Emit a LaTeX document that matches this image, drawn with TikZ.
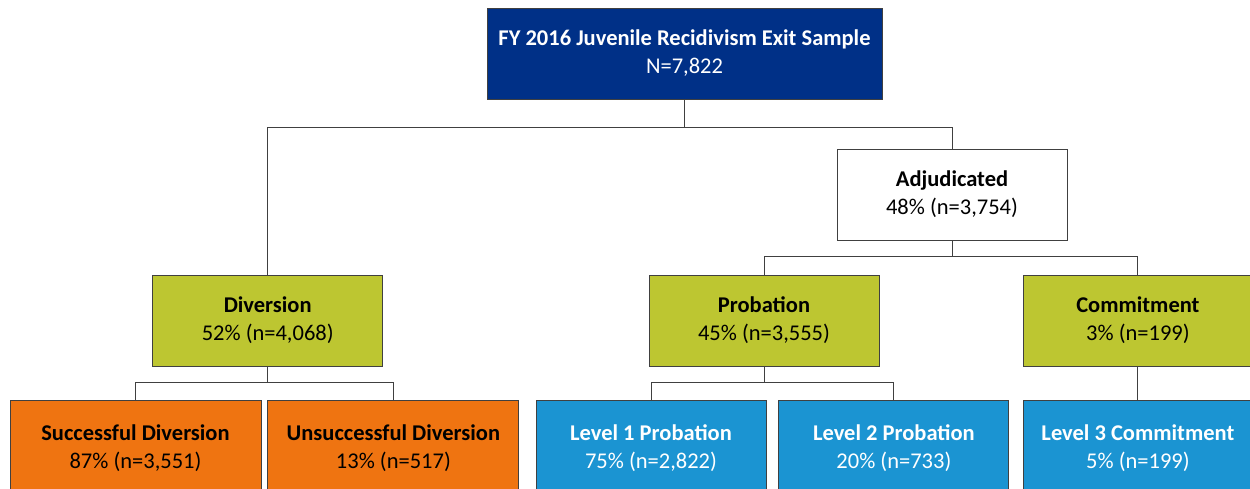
\documentclass[tikz,border=0pt]{standalone}
\usepackage{fontspec}
\setmainfont{Carlito}
\usetikzlibrary{positioning}
\definecolor{navyfill}{RGB}{0,48,135}
\definecolor{olivefill}{RGB}{189,198,49}
\definecolor{orangefill}{RGB}{239,116,17}
\definecolor{bluefill}{RGB}{27,148,210}
\definecolor{edgegray}{RGB}{64,64,64}
\tikzset{
x=1pt, y=-1pt, % one unit is one pixel of the page, y runs downwards
box/.style={draw=edgegray, line width=0.9pt, minimum height=91pt, inner sep=2pt,
  align=center, font=\fontsize{22.5}{28}\selectfont}, % every box of the chart
topbox/.style={box, fill=navyfill, text=white, minimum width=395pt},
midbox/.style={box, fill=olivefill, minimum width=230pt},
divbox/.style={box, fill=orangefill, minimum width=251pt, minimum height=96pt},
levelbox/.style={box, fill=bluefill, text=white, minimum width=230pt, minimum height=96pt},
link/.style={draw=edgegray, line width=0.9pt}, % the connecting lines
}
\begin{document}
\begin{tikzpicture}
    \useasboundingbox (0,0) rectangle (1250,489);
    \node[topbox] (sample) at (684.5,53.5) {\textbf{FY 2016 Juvenile Recidivism Exit Sample}\\N=7,822};
    \node[box, fill=white, minimum width=230pt] (adjudicated) at (952,194.5) {\textbf{Adjudicated}\\48\% (n=3,754)};
    \node[midbox] (diversion) at (267.7,320.5) {\textbf{Diversion}\\52\% (n=4,068)};
    \node[midbox] (probation) at (764,320.5) {\textbf{Probation}\\45\% (n=3,555)};
    \node[midbox, minimum width=228pt, right=144pt of probation] (commitment) {\textbf{Commitment}\\3\% (n=199)};
    \node[divbox] (successful) at (135.5,448.5) {\textbf{Successful Diversion}\\87\% (n=3,551)};
    \node[divbox, right=6pt of successful] (unsuccessful) {\textbf{Unsuccessful Diversion}\\13\% (n=517)};
    \node[levelbox] (level1) at (651,448.5) {\textbf{Level 1 Probation}\\75\% (n=2,822)};
    \node[levelbox, right=12pt of level1] (level2) {\textbf{Level 2 Probation}\\20\% (n=733)};
    \node[levelbox, minimum width=228pt] (level3) at (commitment |- level1) {\textbf{Level 3 Commitment}\\5\% (n=199)};
    % elbow connectors
    \draw[link] (sample.south) -- ++(0,28) coordinate (busa) -| (diversion.north);
    \draw[link] (busa) -| (adjudicated.north);
    \draw[link] (adjudicated.south) -- ++(0,16) coordinate (busb) -| (probation.north);
    \draw[link] (busb) -| (commitment.north);
    \draw[link] (diversion.south) -- ++(0,16) coordinate (busc) -| (successful.north);
    \draw[link] (busc) -| (unsuccessful.north);
    \draw[link] (probation.south) -- ++(0,16) coordinate (busd) -| (level1.north);
    \draw[link] (busd) -| (level2.north);
    \draw[link] (commitment.south) -- (level3.north);
  \end{tikzpicture}
\end{document}
